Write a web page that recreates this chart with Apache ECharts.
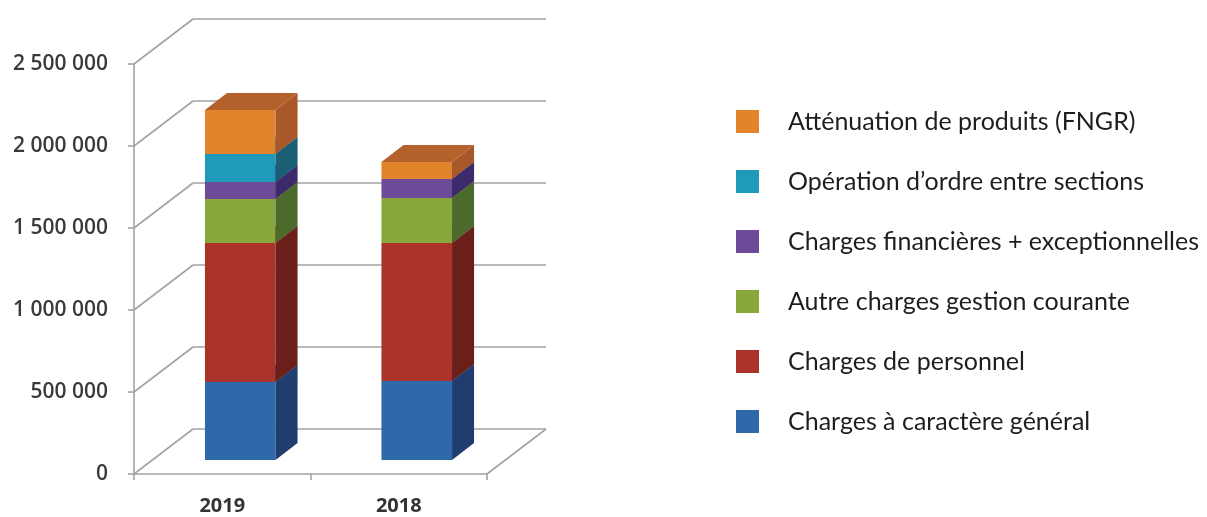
<!DOCTYPE html>
<html>
<head>
<meta charset="utf-8">
<script src="https://cdn.jsdelivr.net/npm/echarts@6/dist/echarts.min.js"></script>
<style>
html, body { margin: 0; padding: 0; background: #fff; }
#main { width: 1207px; height: 517px; }
</style>
</head>
<body>
<div id="main"></div>
<script>
var categories = ['2019', '2018'];
var seriesNames = [
	'Charges à caractère général',
	'Charges de personnel',
	'Autre charges gestion courante',
	'Charges financières + exceptionnelles',
	'Opération d’ordre entre sections',
	'Atténuation de produits (FNGR)'
];
var chargesGeneral = [476000, 482000];
var chargesPersonnel = [847000, 841000];
var autreCharges = [268000, 275000];
var chargesFinancieres = [104000, 115000];
var operationOrdre = [171000, 0];
var attenuation = [268000, 104000];
var yTicks = [0, 500000, 1000000, 1500000, 2000000, 2500000];

var allValues = [chargesGeneral, chargesPersonnel, autreCharges, chargesFinancieres, operationOrdre, attenuation];

var frontColors = ['#2f69aa', '#aa332b', '#89a83b', '#6e4b99', '#1f9abb', '#e2842b'];
var sideColors = ['#1f3d6e', '#6b1f1a', '#4b6a2c', '#3b2a6c', '#1b5f74', '#a9582a'];
var topColors = ['#27528a', '#8a2a24', '#6f8a32', '#55397f', '#1a7d98', '#b4622c'];

// 3d look: wall depth and bar placement inside it (pixels)
var WX = 59, WY = -45;
var FX = 18, FY = -14;
var DX = 22, DY = -17;
var BAR_RATIO = 0.4;
var gridColor = '#a3a3a3';

var myChart = echarts.init(document.getElementById('main'));

function fmtNum(v) {
	return String(v).replace(/\B(?=(\d{3})+(?!\d))/g, ' ');
}

function renderWall(params, api) {
	var cs = params.coordSys;
	var y = api.coord([0, api.value(1)])[1];
	var left = cs.x, right = cs.x + cs.width;
	var children = [
		{type: 'line', shape: {x1: left, y1: y, x2: left + WX, y2: y + WY}, style: {stroke: gridColor, lineWidth: 1.6}},
		{type: 'line', shape: {x1: left + WX, y1: y + WY, x2: right + WX, y2: y + WY}, style: {stroke: gridColor, lineWidth: 1.6}}
	];
	if (api.value(1) === 0) {
		children.push({type: 'line', shape: {x1: right, y1: y, x2: right + WX, y2: y + WY}, style: {stroke: gridColor, lineWidth: 1.6}});
	}
	return {type: 'group', children: children};
}

function makeBarRenderer(idx) {
	return function (params, api) {
		var cat = api.value(0), base = api.value(1), top = api.value(2);
		if (top <= base) return null;
		var p0 = api.coord([cat, base]);
		var p1 = api.coord([cat, top]);
		var bw = api.size([1, 0])[0] * BAR_RATIO;
		var x0 = p0[0] - bw / 2 + FX, x1 = x0 + bw;
		var yb = p0[1] + FY, yt = p1[1] + FY;
		return {
			type: 'group',
			children: [
				{type: 'rect', shape: {x: x0, y: yt, width: bw, height: yb - yt}, style: {fill: frontColors[idx]}},
				{type: 'polygon', shape: {points: [[x1, yb], [x1, yt], [x1 + DX, yt + DY], [x1 + DX, yb + DY]]}, style: {fill: sideColors[idx]}},
				{type: 'polygon', shape: {points: [[x0, yt], [x1, yt], [x1 + DX, yt + DY], [x0 + DX, yt + DY]]}, style: {fill: topColors[idx]}}
			]
		};
	};
}

var series = [{
	type: 'custom',
	name: 'walls',
	silent: true,
	z: 1,
	renderItem: renderWall,
	data: yTicks.map(function (v) { return [0, v]; })
}];

var bases = categories.map(function () { return 0; });
allValues.forEach(function (vals, idx) {
	var data = vals.map(function (v, i) {
		var item = [i, bases[i], bases[i] + v];
		bases[i] += v;
		return item;
	});
	series.push({
		type: 'custom',
		name: seriesNames[idx],
		z: 2,
		itemStyle: {color: frontColors[idx]},
		renderItem: makeBarRenderer(idx),
		encode: {x: 0, y: [1, 2]},
		data: data
	});
});

var option = {
	animation: false,
	grid: {left: 134, right: 720, top: 64, bottom: 43},
	legend: {
		orient: 'vertical',
		left: 731,
		top: 104,
		itemWidth: 23,
		itemHeight: 23,
		itemGap: 35,
		icon: 'rect',
		selectedMode: false,
		textStyle: {fontFamily: 'Lato', fontSize: 25, color: '#1e1e1e', padding: [0, 0, 0, 24]},
		data: seriesNames.slice().reverse()
	},
	xAxis: {
		type: 'category',
		data: categories,
		axisLine: {lineStyle: {color: gridColor, width: 1.6}},
		axisTick: {show: true, length: 6, lineStyle: {color: gridColor, width: 1.6}},
		axisLabel: {margin: 22, fontFamily: 'Open Sans', fontWeight: 700, fontSize: 20, color: '#333'}
	},
	yAxis: {
		type: 'value',
		min: 0,
		max: 2500000,
		interval: 500000,
		axisLine: {show: true, lineStyle: {color: gridColor, width: 1.6}},
		axisTick: {show: true, length: 6, lineStyle: {color: gridColor, width: 1.6}},
		splitLine: {show: false},
		axisLabel: {margin: 26, fontFamily: 'Open Sans', fontWeight: 600, fontSize: 21, color: '#3a3a3a', formatter: fmtNum}
	},
	series: series
};

myChart.setOption(option);
</script>
</body>
</html>
